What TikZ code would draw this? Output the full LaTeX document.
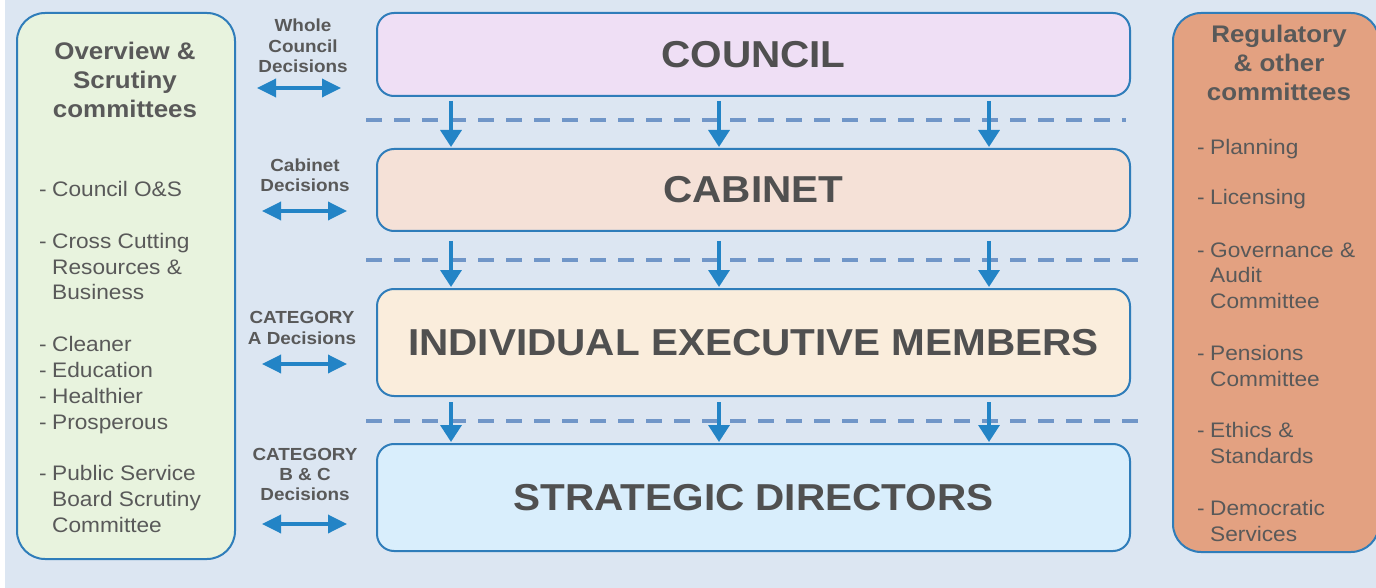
\documentclass[tikz,border=0pt]{standalone}
\usepackage{fontspec}
\setmainfont{Liberation Sans}[FakeStretch=1.08]
\usetikzlibrary{arrows.meta}
\definecolor{bg}{HTML}{DCE6F2}
\definecolor{edge}{HTML}{2F7DBA}
\definecolor{arr}{HTML}{2384C6}
\definecolor{dsh}{HTML}{7096C8}
\definecolor{txt}{HTML}{595959}
\definecolor{tiertxt}{HTML}{505050}
\definecolor{fcouncil}{HTML}{EFDFF5}
\definecolor{fcabinet}{HTML}{F5E1D7}
\definecolor{fiem}{HTML}{FAEDDC}
\definecolor{fsd}{HTML}{D9EEFC}
\definecolor{fleft}{HTML}{E8F3DE}
\definecolor{fright}{HTML}{E3A181}
\tikzset{
  panel/.style={draw=edge, line width=2pt, rounded corners=28pt, inner sep=0pt},
  tier/.style={draw=edge, line width=2pt, rounded corners=17pt, minimum width=753pt, inner sep=0pt,
    text=tiertxt, font=\fontsize{37.5}{40}\selectfont\bfseries},
  ttl/.style={text=txt, font=\fontsize{24}{29}\selectfont\bfseries, anchor=base, inner sep=0pt},
  itm/.style={text=txt, font=\fontsize{21}{26}\selectfont, anchor=base west, inner sep=0pt},
  lbl/.style={text=txt, font=\fontsize{17.5}{20.5}\selectfont\bfseries, anchor=base, inner sep=0pt},
  harr/.style={draw=arr, line width=3.5pt, {Triangle[length=19pt,width=18pt]}-{Triangle[length=19pt,width=18pt]}},
  darr/.style={draw=arr, line width=3.5pt, -{Triangle[length=17pt,width=21pt]}},
  sep/.style={draw=dsh, line width=3.2pt, dash pattern=on 16pt off 12pt}
}
\begin{document}
\begin{tikzpicture}[x=1pt,y=-1pt]
\useasboundingbox (0,0) rectangle (1376,588);
\fill[bg] (0,0) rectangle (1376,588);
\fill[white] (0,0) rectangle (5,588);

% side panels
\node[panel, fill=fleft, minimum width=218pt, minimum height=546pt] (left) at (126,286) {};
\node[panel, fill=fright, minimum width=206pt, minimum height=539pt] (right) at (1276,282.5) {};

% tiers
\node[tier, fill=fcouncil, minimum height=83pt] (council) at (753.5,54.5) {COUNCIL};
\node[tier, fill=fcabinet, minimum height=82pt] (cabinet) at (753.5,190) {CABINET};
\node[tier, fill=fiem, minimum height=107pt] (iem) at (753.5,342.5) {INDIVIDUAL EXECUTIVE MEMBERS};
\node[tier, fill=fsd, minimum height=107pt] (sd) at (753.5,497.5) {STRATEGIC DIRECTORS};

% dashed separators
\coordinate (s1a) at (366,120); \coordinate (s1b) at (1126,120);
\coordinate (s2a) at (366,260); \coordinate (s2b) at (1142,260);
\coordinate (s3a) at (366,421); \coordinate (s3b) at (1142,421);
\draw[sep] (s1a) -- (s1b);
\draw[sep] (s2a) -- (s2b);
\draw[sep] (s3a) -- (s3b);

% down arrows
\foreach \dx/\n in {75/a,343/b,613/c}{
  \draw[darr, shorten <=4pt, shorten >=1pt] ([xshift=\dx pt]council.south west) -- ([xshift=\dx pt]cabinet.north west);
  \draw[darr, shorten <=9pt, shorten >=1pt] ([xshift=\dx pt]cabinet.south west) -- ([xshift=\dx pt]iem.north west);
  \draw[darr, shorten <=5pt, shorten >=1pt] ([xshift=\dx pt]iem.south west) -- ([xshift=\dx pt]sd.north west);
}

% decision labels
\node[lbl] (l1a) at (303,32) {Whole};
\node[lbl] (l1b) at (303,53) {Council};
\node[lbl] (l1c) at (303,73) {Decisions};
\node[lbl] (l2a) at (305,172) {Cabinet};
\node[lbl] (l2b) at (305,192) {Decisions};
\node[lbl] (l3a) at (302,323) {CATEGORY};
\node[lbl] (l3b) at (302,344) {A Decisions};
\node[lbl] (l4a) at (305,460) {CATEGORY};
\node[lbl] (l4b) at (305,480) {B \& C};
\node[lbl] (l4c) at (305,500) {Decisions};

% double arrows
\coordinate (h1a) at (257,88);  \coordinate (h1b) at (341,88);
\coordinate (h2a) at (262,211); \coordinate (h2b) at (347,211);
\coordinate (h3a) at (262,364); \coordinate (h3b) at (347,364);
\coordinate (h4a) at (262,524); \coordinate (h4b) at (347,524);
\draw[harr] (h1a) -- (h1b);
\draw[harr] (h2a) -- (h2b);
\draw[harr] (h3a) -- (h3b);
\draw[harr] (h4a) -- (h4b);

% left panel text
\node[ttl] (lt1) at (125,60) {Overview \&};
\node[ttl] (lt2) at (125,89) {Scrutiny};
\node[ttl] (lt3) at (125,118) {committees};
\foreach \y in {197,248,351,377,403,429,480}{
  \node[itm] at (39,\y) {-};
}
\foreach \y/\t [count=\i] in {197/Council O\&S, 248/Cross Cutting, 274/Resources \&, 299/Business,
  351/Cleaner, 377/Education, 403/Healthier, 429/Prosperous,
  480/Public Service, 506/Board Scrutiny, 532/Committee}{
  \node[itm] (li\i) at (52,\y) {\t};
}

% right panel text
\node[ttl] (rt1) at (1279,43) {Regulatory};
\node[ttl] (rt2) at (1279,72) {\& other};
\node[ttl] (rt3) at (1279,101) {committees};
\foreach \y in {155,205,257,360,437,515}{
  \node[itm] at (1197,\y) {-};
}
\foreach \y/\t [count=\i] in {155/Planning, 205/Licensing, 257/Governance \&, 282/Audit, 308/Committee,
  360/Pensions, 386/Committee, 437/Ethics \&, 463/Standards, 515/Democratic, 541/Services}{
  \node[itm] (ri\i) at (1210,\y) {\t};
}
\end{tikzpicture}
\end{document}
